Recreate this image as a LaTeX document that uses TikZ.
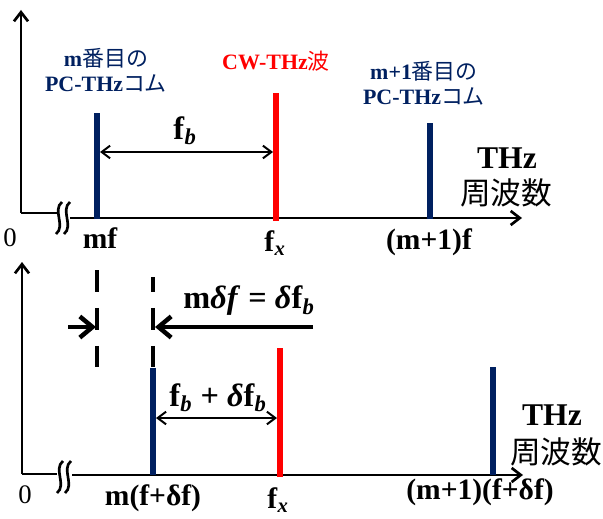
\documentclass[tikz,border=0pt]{standalone}
\usepackage{fontspec}
\setmainfont{Liberation Serif}
\newfontfamily\jpfont{Noto Sans CJK JP}
\usetikzlibrary{arrows.meta}
\definecolor{combblue}{RGB}{0,32,96}
\definecolor{cwred}{RGB}{255,0,0}
\tikzset{
  axisline/.style={
    line width=1.9pt
  },
  axisarrow/.style={
    line width=1.9pt,
    -{Straight Barb[length=6.5pt,width=10pt]}
  },
  brk/.style={
    line width=1.9pt
  },
  comb/.style={
    line width=4.3pt,
    draw=combblue
  },
  cw/.style={
    line width=4.3pt,
    draw=cwred
  },
  spanarrow/.style={
    line width=1.4pt,
    {Straight Barb[length=6pt,width=9pt]}-{Straight Barb[length=6pt,width=9pt]}
  },
  shiftarrow/.style={
    line width=3.2pt,
    -{Straight Barb[length=9pt,width=15pt]}
  },
  guide/.style={
    line width=2.8pt,
    dash pattern=on 15.6pt off 11.4pt
  },
  combname/.style={
    align=center,
    inner sep=0pt,
    font=\fontsize{15.6}{17.8}\selectfont\bfseries
  },
  freq/.style={
    inner sep=0pt,
    font=\fontsize{21}{24}\selectfont\bfseries
  },
  shiftlbl/.style={
    inner sep=0pt,
    font=\fontsize{23}{26}\selectfont\bfseries
  },
  zero/.style={
    inner sep=0pt,
    font=\fontsize{19}{22}\selectfont
  },
  unitlbl/.style={
    inner sep=0pt,
    font=\fontsize{22.5}{26}\selectfont\bfseries
  },
  unitjp/.style={
    inner sep=0pt,
    font=\fontsize{21.8}{26}\selectfont\jpfont
  }
}
\newcommand{\fsub}[1]{\textbf{f}\textsubscript{\textbf{\textit{#1}}}}
\newcommand{\dlt}{\textbf{\textit{δ}}}

\begin{document}
\begin{tikzpicture}[x=0.025cm,y=-0.025cm]
  \useasboundingbox (0,0) rectangle (603,518);

  % upper spectrum: axes
  \coordinate (o1)  at (21,213);
  \coordinate (y1)  at (21,10);
  \coordinate (b1l) at (57,213);
  \coordinate (b1r) at (70,218);
  \coordinate (x1)  at (522,218);
  \draw[axisarrow] (o1) -- (y1);
  \draw[axisline] (o1) -- (b1l);
  \draw[axisarrow] (b1r) -- (x1);
  \foreach \xx in {59,67}
    \draw[brk] (\xx+3,202) .. controls (\xx-7,210) and (\xx+7,226) .. (\xx-3,234);

  % upper spectrum: lines
  \coordinate (m1)  at (97,219);
  \coordinate (m1t) at (97,113);
  \coordinate (c1)  at (276,221);
  \coordinate (c1t) at (276,93);
  \coordinate (n1)  at (430,219);
  \coordinate (n1t) at (430,123);
  \draw[comb] (m1) -- (m1t);
  \draw[cw] (c1) -- (c1t);
  \draw[comb] (n1) -- (n1t);
  \coordinate (fbL) at (100,152);
  \coordinate (fbR) at (273,152);
  \draw[spanarrow] (fbL) -- (fbR);

  % upper spectrum: labels
  \node[combname, text=combblue] (lbm) at (106,70)
    {m{\jpfont\mdseries 番目の}\\PC-THz{\jpfont\mdseries コム}};
  \node[combname, text=cwred] (lbcw) at (276,61) {CW-THz{\jpfont\mdseries 波}};
  \node[combname, text=combblue] (lbn) at (424,83)
    {m+1{\jpfont\mdseries 番目の}\\PC-THz{\jpfont\mdseries コム}};
  \node[shiftlbl] (lbfb) at (185,131) {\fsub{b}};
  \node[unitlbl] (thz1) at (507,158) {THz};
  \node[unitjp] (hz1) at (506,193) {周波数};
  \node[zero] (z1) at (10,238) {0};
  \node[freq] (tmf) at (100,238) {mf};
  \node[freq] (tfx) at (275,243) {\fsub{x}};
  \node[freq] (tnf) at (429,242) {(m+1)f};

  % lower spectrum: axes
  \coordinate (o2)  at (22,474);
  \coordinate (y2)  at (22,262);
  \coordinate (b2l) at (57,474);
  \coordinate (b2r) at (72,475);
  \coordinate (x2)  at (523,475);
  \draw[axisarrow] (o2) -- (y2);
  \draw[axisline] (o2) -- (b2l);
  \draw[axisarrow] (b2r) -- (x2);
  \foreach \xx in {60,68}
    \draw[brk] (\xx+3,461) .. controls (\xx-7,469) and (\xx+7,485) .. (\xx-3,493);

  % lower spectrum: lines
  \coordinate (m2)  at (153,475);
  \coordinate (m2t) at (153,368);
  \coordinate (c2)  at (280,477);
  \coordinate (c2t) at (280,348);
  \coordinate (n2)  at (493,475);
  \coordinate (n2t) at (493,367);
  \draw[comb] (m2) -- (m2t);
  \draw[cw] (c2) -- (c2t);
  \draw[comb] (n2) -- (n2t);
  \coordinate (fbdL) at (156,418);
  \coordinate (fbdR) at (277,418);
  \draw[spanarrow] (fbdL) -- (fbdR);

  % shift of the m-th line
  \coordinate (g1t) at (97,270);
  \coordinate (g1b) at (97,367);
  \coordinate (g2t) at (153,277);
  \coordinate (g2b) at (153,367);
  \draw[guide] (g1t) -- (g1b);
  \draw[guide, dash phase=5pt] (g2t) -- (g2b);
  \coordinate (sa) at (68,327);
  \coordinate (sb) at (96,327);
  \coordinate (la) at (313,327);
  \coordinate (lb) at (155,327);
  \draw[shiftarrow] (sa) -- (sb);
  \draw[shiftarrow] (la) -- (lb);

  % lower spectrum: labels
  \node[shiftlbl] (lbsh) at (249,301) {m\dlt\textbf{\textit{f}} = \dlt\fsub{b}};
  \node[shiftlbl] (lbfd) at (218,398) {\fsub{b} + \dlt\fsub{b}};
  \node[unitlbl] (thz2) at (552,415) {THz};
  \node[unitjp] (hz2) at (556,452) {周波数};
  \node[zero] (z2) at (25,495) {0};
  \node[freq] (bmf) at (153,498) {m(f+δf)};
  \node[freq] (bfx) at (278,500) {\fsub{x}};
  \node[freq] (bnf) at (480,492) {(m+1)(f+δf)};
\end{tikzpicture}
\end{document}
